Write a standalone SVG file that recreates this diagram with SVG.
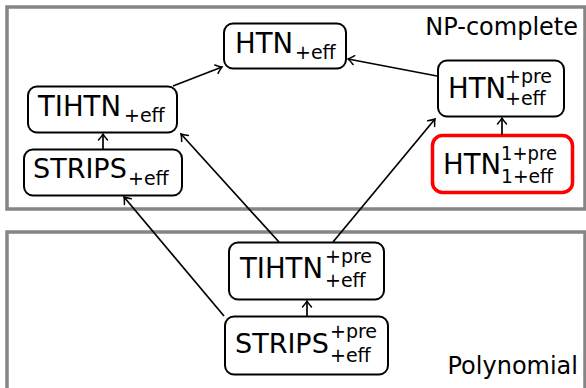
<svg xmlns="http://www.w3.org/2000/svg" width="586" height="388" viewBox="0 0 586 388">
<style>
.region{fill:#fff;stroke:#858585;stroke-width:3.5}
.node{fill:#fff;stroke:#000;stroke-width:2}
.hl{fill:#fff;stroke:#f00;stroke-width:3.5}
.t{font-family:"DejaVu Sans","Liberation Sans",sans-serif;fill:#000}
.m{font-size:27.5px}
.s{font-size:19px}
.lbl{font-size:24px}
.edge{fill:none;stroke:#000;stroke-width:1.7;marker-end:url(#arr)}
</style>
<defs>
<marker id="arr" viewBox="-8 -6 10 12" markerWidth="10" markerHeight="12" refX="0" refY="0" orient="auto" markerUnits="userSpaceOnUse">
<path d="M-6,-4.5 Q-2,-1 0,0 Q-2,1 -6,4.5" fill="none" stroke="#000" stroke-width="1.5" stroke-linecap="round"/>
</marker>
</defs>
<rect width="586" height="388" fill="#fff"/>
<g id="region-np">
<rect class="region" x="7" y="7" width="578" height="202"/>
<text class="t lbl" x="578" y="35" text-anchor="end">NP-complete</text>
</g>
<g id="region-poly">
<rect class="region" x="7" y="232" width="578" height="158"/>
<text class="t lbl" x="578" y="374" text-anchor="end">Polynomial</text>
</g>
<g id="n-htn-eff">
<rect class="node" x="224" y="23.5" width="122" height="45" rx="9"/>
<text class="t m" x="235" y="53">HTN</text>
<text class="t s" x="295" y="59">+eff</text>
</g>
<g id="n-tihtn-eff">
<rect class="node" x="28" y="86.5" width="149" height="46" rx="9"/>
<text class="t m" x="38" y="116">TIHTN</text>
<text class="t s" x="124" y="122">+eff</text>
</g>
<g id="n-strips-eff">
<rect class="node" x="24" y="149.5" width="158" height="46" rx="9"/>
<text class="t m" x="33" y="178" style="font-size:27px">STRIPS</text>
<text class="t s" x="128" y="185">+eff</text>
</g>
<g id="n-htn-pre-eff">
<rect class="node" x="438" y="60.5" width="126" height="56" rx="9"/>
<text class="t m" x="448" y="97.5">HTN</text>
<text class="t s" x="505" y="83">+pre</text>
<text class="t s" x="505" y="105">+eff</text>
</g>
<g id="n-htn-1pre-1eff">
<rect class="hl" x="432.5" y="135.5" width="140" height="57" rx="10"/>
<text class="t m" x="443" y="174">HTN</text>
<text class="t s" x="501" y="160" textLength="56" lengthAdjust="spacingAndGlyphs">1+pre</text>
<text class="t s" x="501" y="183" textLength="52" lengthAdjust="spacingAndGlyphs">1+eff</text>
</g>
<g id="n-tihtn-pre-eff">
<rect class="node" x="229" y="242.5" width="155" height="57" rx="9"/>
<text class="t m" x="240" y="278">TIHTN</text>
<text class="t s" x="325" y="263">+pre</text>
<text class="t s" x="325" y="287">+eff</text>
</g>
<g id="n-strips-pre-eff">
<rect class="node" x="225" y="316.5" width="163" height="58" rx="9"/>
<text class="t m" x="235" y="353" style="font-size:27px">STRIPS</text>
<text class="t s" x="330" y="338">+pre</text>
<text class="t s" x="330" y="362">+eff</text>
</g>
<g id="connectors">
<path class="edge" d="M173,86 L222,67"/>
<path class="edge" d="M437,76 L348,59"/>
<path class="edge" d="M103,149 L103,134"/>
<path class="edge" d="M502,135 L502,118"/>
<path class="edge" d="M279,242 L181,134"/>
<path class="edge" d="M333,242 L435,119"/>
<path class="edge" d="M224,316 L124,197"/>
<path class="edge" d="M307,316 L307,301"/>
</g>
</svg>
